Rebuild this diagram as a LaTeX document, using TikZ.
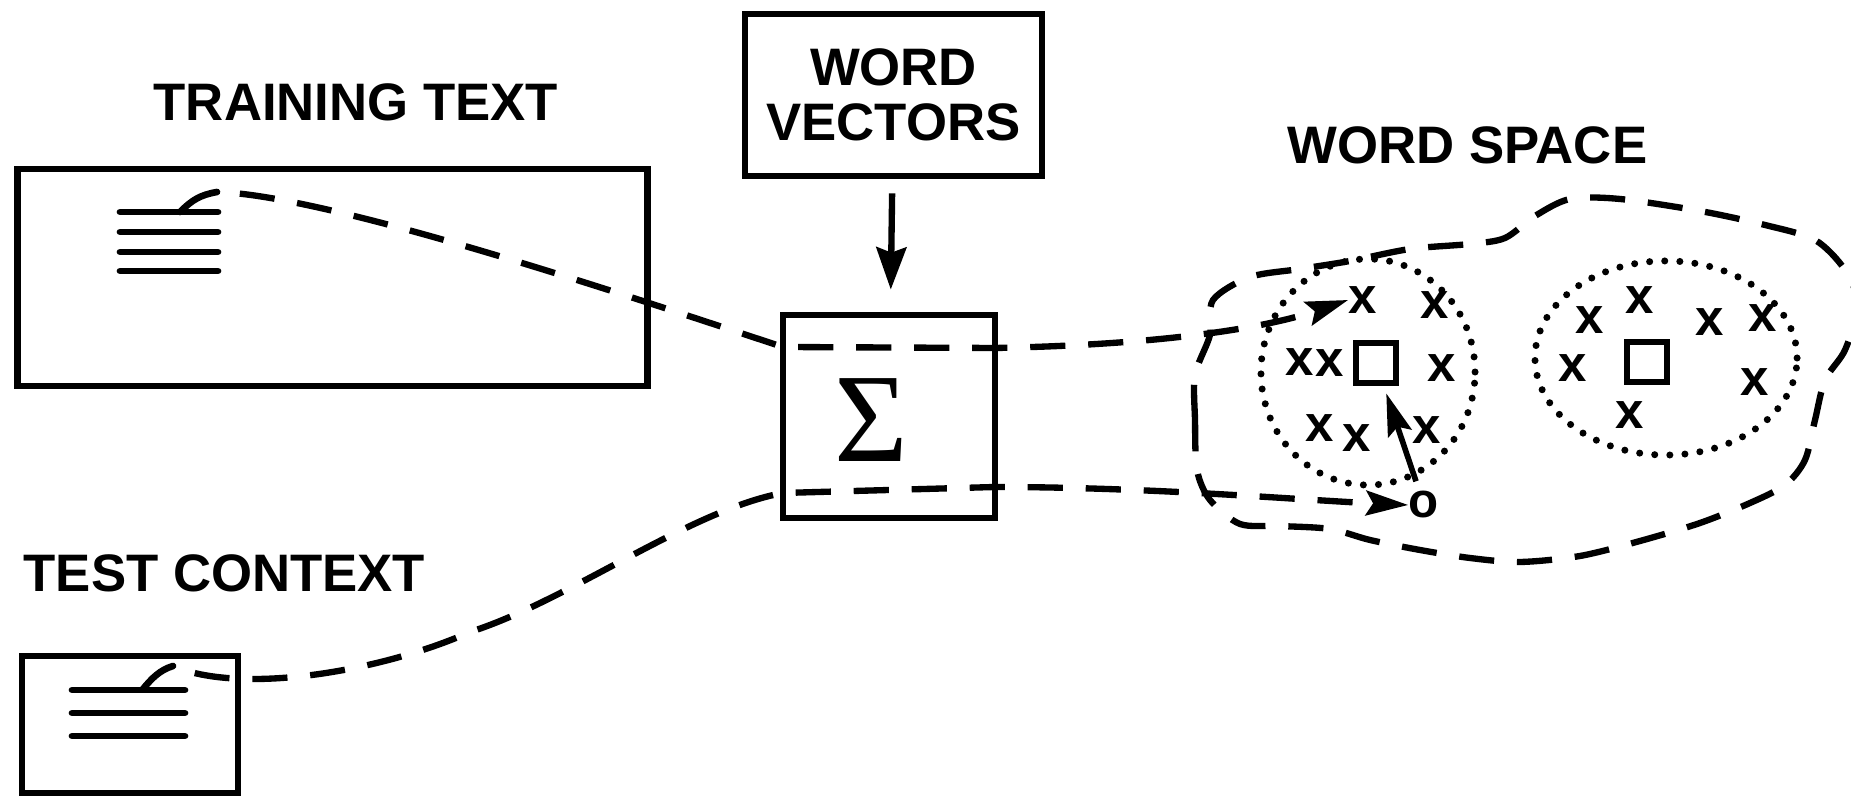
\documentclass[tikz,border=0pt]{standalone}
\usepackage{fontspec}
\setmainfont{Liberation Sans}
\newfontfamily\sigfont{Liberation Serif}
\usetikzlibrary{arrows.meta}
\begin{document}
\begin{tikzpicture}[x=0.01cm,y=-0.01cm,
  box/.style={draw,line width=1.9pt,inner sep=0pt},
  lbl/.style={inner sep=0pt,font=\fontsize{15}{15.6}\selectfont\bfseries},
  dsh/.style={line width=1.8pt,dash pattern=on 10pt off 6.5pt},
  dotline/.style={line width=2pt,line cap=round,dash pattern=on 0pt off 4.3pt},
  txtline/.style={line width=1.9pt,line cap=round},
  pt/.style={inner sep=0pt,font=\fontsize{14.5}{15}\selectfont\bfseries},
  ctr/.style={draw,line width=1.6pt,minimum size=0.4cm,inner sep=0pt},
  tip/.style={-{Stealth[length=12pt,width=7pt,inset=2pt]}},
]
\useasboundingbox (0,0) rectangle (1851,798);

% boxes and labels
\node[box,minimum width=6.29cm,minimum height=2.17cm] (train) at (332.5,277.5) {};
\node[lbl,anchor=base west] (trainlbl) at (153,121) {TRAINING TEXT};
\node[box,minimum width=2.16cm,minimum height=1.37cm] (test) at (130,724.5) {};
\node[lbl,anchor=base west] (testlbl) at (23,592) {TEST CONTEXT};
\node[box,lbl,align=center,minimum width=2.97cm,minimum height=1.62cm] (wv) at (893.5,95) {WORD\\VECTORS};
\node[box,minimum width=2.12cm,minimum height=2.03cm] (sig) at (889,416.5) {};
\node[inner sep=0pt,font=\sigfont\fontsize{36}{36}\selectfont] (sigma) at (871,420) {Σ};
\node[lbl,anchor=base west] (wslbl) at (1287,164) {WORD SPACE};

\draw[line width=1.8pt,-{Stealth[length=12pt,width=8.5pt,inset=1.5pt]},shorten <=0.14cm,shorten >=0.22cm] (wv) -- (sig);

% text lines in training box
\draw[txtline] (120,212) -- (218,212);
\draw[txtline] (120,232) -- (218,232);
\draw[txtline] (120,252) -- (218,252);
\draw[txtline] (120,271) -- (218,271);
\coordinate (tA) at (217,192);
\draw[txtline] (180,212) .. controls (192,200) and (200,195) .. (tA);

% text lines in test box
\draw[txtline] (72,690) -- (185,690);
\draw[txtline] (72,713) -- (185,713);
\draw[txtline] (72,736) -- (185,736);
\coordinate (cA) at (173,666);
\draw[txtline] (143,689) .. controls (152,678) and (160,670) .. (cA);

% word space points
\node[ctr] (sqL) at (1376,363) {};
\node[ctr] (sqR) at (1647,362) {};
\node[pt] (x1) at (1363,300) {x};
\node[pt] (x2) at (1435,305) {x};
\node[pt] (x3) at (1300,362) {x};
\node[pt] (x4) at (1330,363) {x};
\node[pt] (x5) at (1442,368) {x};
\node[pt] (x6) at (1320,428) {x};
\node[pt] (x7) at (1357,438) {x};
\node[pt] (x8) at (1427,430) {x};
\node[pt] (y1) at (1590,320) {x};
\node[pt] (y2) at (1640,300) {x};
\node[pt] (y3) at (1710,322) {x};
\node[pt] (y4) at (1763,318) {x};
\node[pt] (y5) at (1573,368) {x};
\node[pt] (y6) at (1755,382) {x};
\node[pt] (y7) at (1630,415) {x};
\node[inner sep=0pt,font=\fontsize{14}{14}\selectfont\bfseries] (o) at (1424,505) {o};

\draw[dotline] (1368,372) ellipse [x radius=1.07cm, y radius=1.13cm];
\draw[dotline] (1666,358) ellipse [x radius=1.31cm, y radius=0.97cm];

\draw[dsh] plot[smooth cycle] coordinates {
 (1197,470) (1195,420) (1195,375) (1210,335) (1213,300) (1250,277) (1300,269)
 (1350,261) (1410,249) (1470,244) (1505,238) (1535,216) (1570,199) (1620,199)
 (1700,211) (1765,225) (1815,240) (1845,270) (1858,305) (1845,350) (1825,380)
 (1815,420) (1805,460) (1785,485) (1750,503) (1700,523) (1640,541) (1580,556)
 (1520,562) (1470,558) (1420,550) (1370,540) (1330,529) (1280,526) (1240,524)
 (1210,500)};

% connectors
\coordinate (s1w) at (783,347);
\coordinate (s1e) at (995,348);
\coordinate (s2w) at (783,493);
\coordinate (s2e) at (995,487);
\draw[dsh,dash phase=10pt,tip] (tA) .. controls (330,195) and (640,300) .. (s1w) -- (s1e)
  .. controls (1150,345) and (1260,330) .. (x1.west);
\draw[dsh,dash phase=10pt,tip] (cA) .. controls (240,695) and (380,672) .. (470,632)
  .. controls (570,600) and (690,510) .. (s2w) -- (s2e)
  .. controls (1150,487) and (1300,500) .. (o.west);
\draw[line width=1.6pt,tip,shorten <=0.1cm,shorten >=0.08cm] (o) -- (sqL);
\end{tikzpicture}
\end{document}
